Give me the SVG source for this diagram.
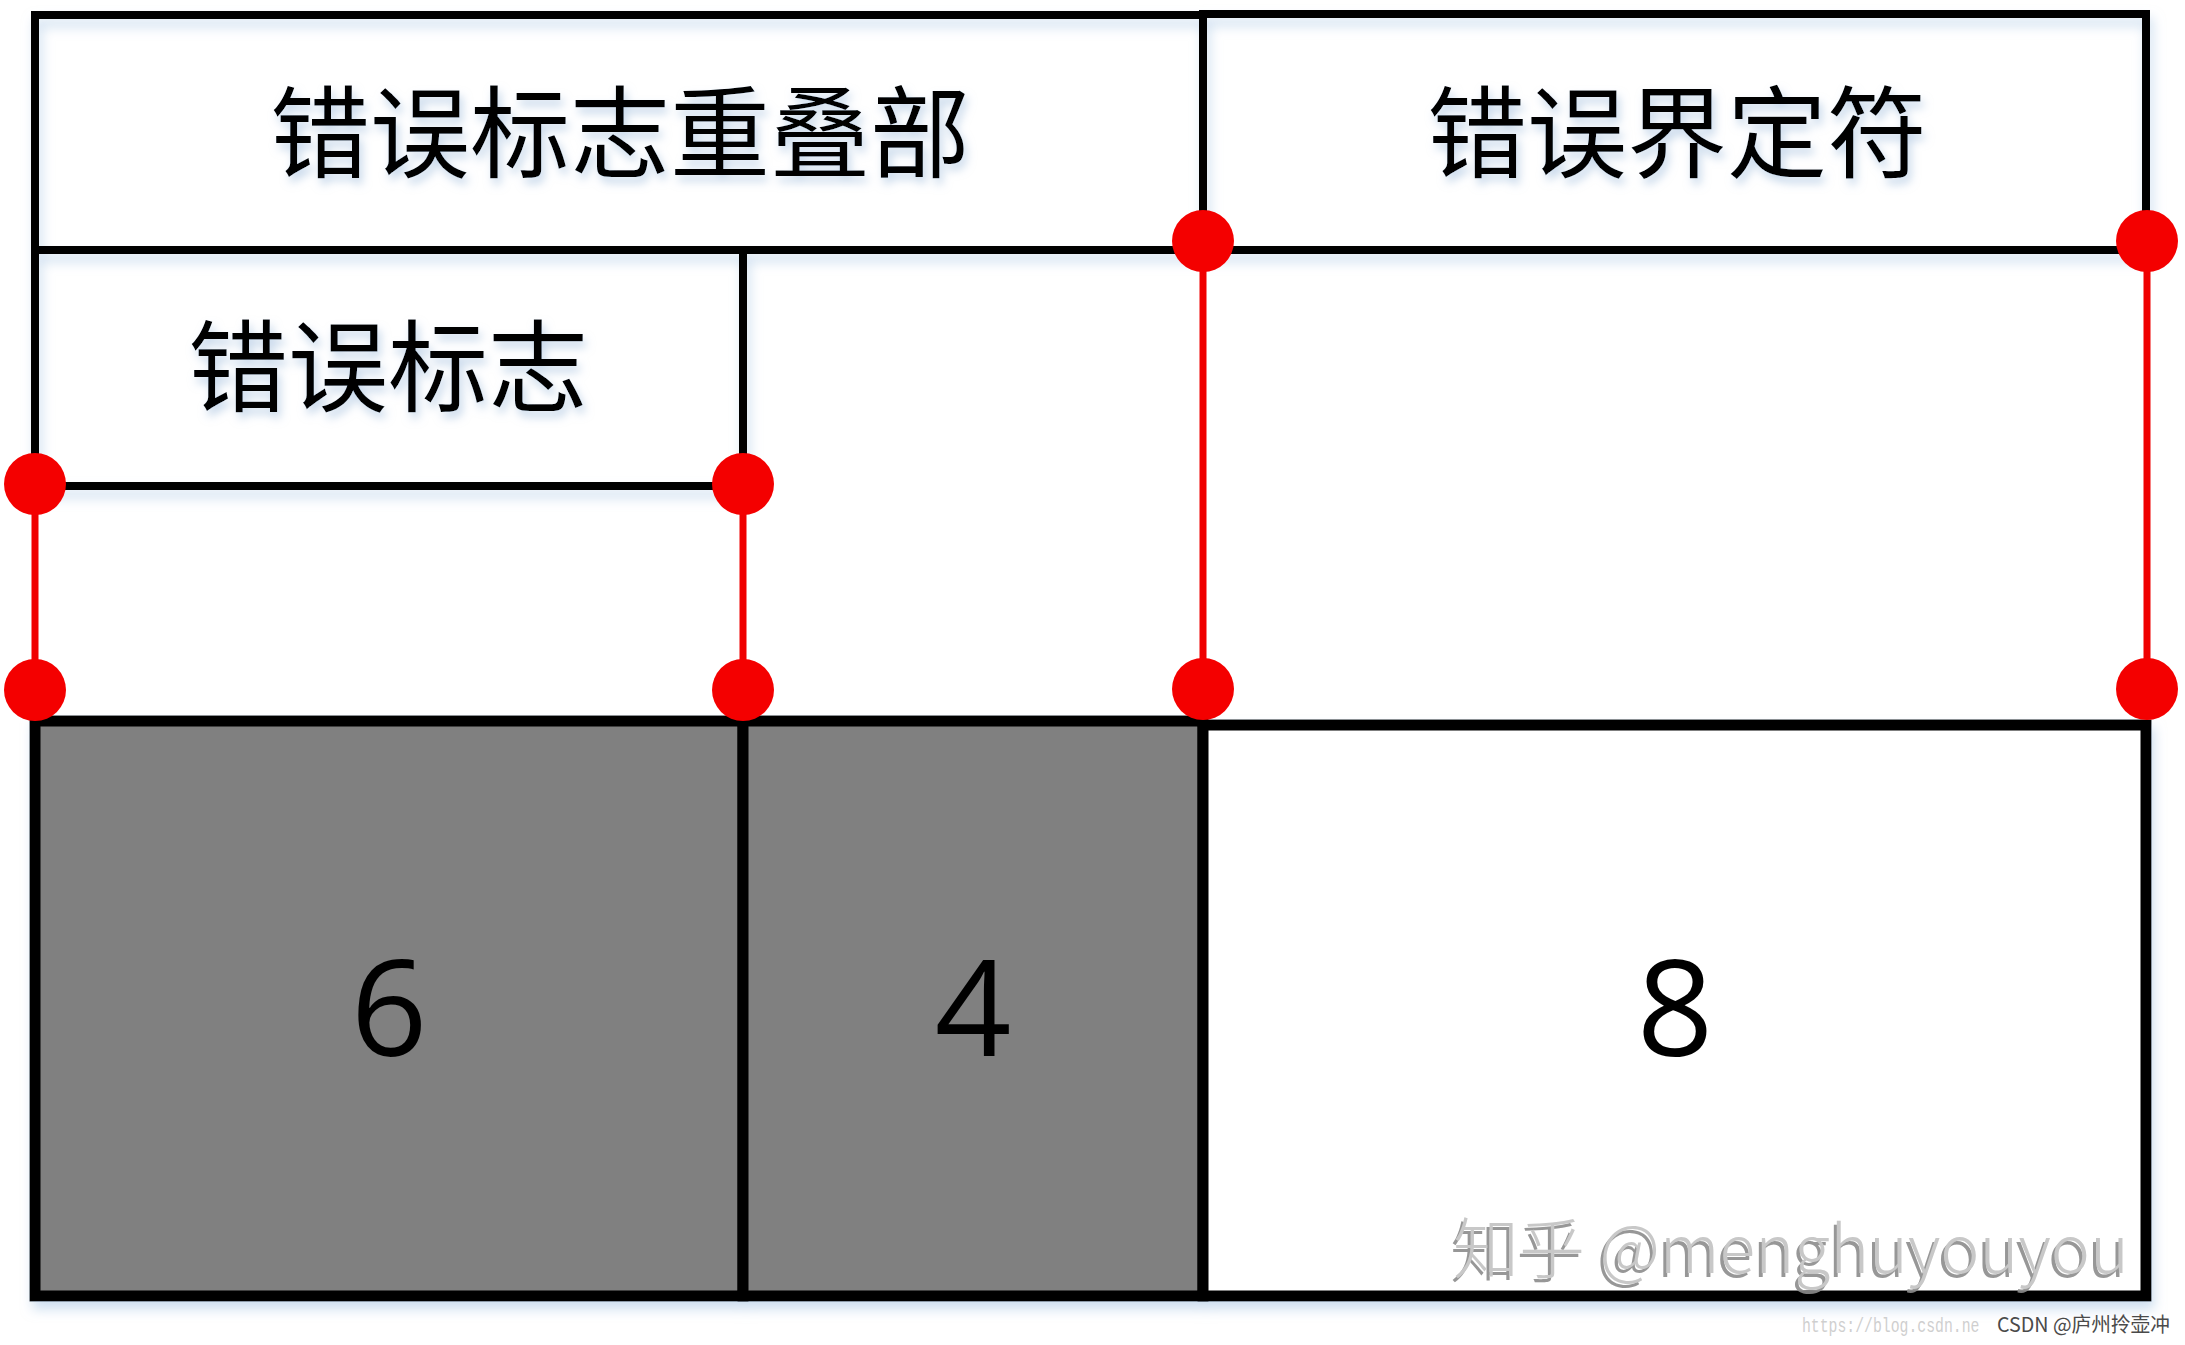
<svg xmlns="http://www.w3.org/2000/svg" width="2185" height="1345" viewBox="0 0 2185 1345">
<defs>
<filter id="sh" x="-5%" y="-5%" width="110%" height="120%">
<feDropShadow dx="3" dy="8" stdDeviation="6" flood-color="#a9c6e4" flood-opacity="0.55"/>
</filter>
<filter id="tsh" x="-10%" y="-20%" width="120%" height="150%">
<feDropShadow dx="3" dy="6" stdDeviation="5" flood-color="#9dbbdb" flood-opacity="0.6"/>
</filter>
<filter id="wsh" x="-5%" y="-20%" width="110%" height="150%">
<feDropShadow dx="-3" dy="4" stdDeviation="0.6" flood-color="#8c8c8c" flood-opacity="0.9"/>
</filter>
</defs>
<style>
.box{fill:none;stroke:#000;stroke-width:8}
.cell{stroke:#000;stroke-width:11}
.red{stroke:#f00000;stroke-width:7;fill:none}
.dot{fill:#f40000}
.cjk{font-family:"Noto Sans CJK SC","Noto Sans",sans-serif;font-size:100px;fill:#000;text-anchor:middle}
.num{font-family:"Open Sans","Liberation Sans",sans-serif;font-size:134px;fill:#000;text-anchor:middle}
</style>
<rect width="2185" height="1345" fill="#fff"/>
<g id="bottom" filter="url(#sh)">
<rect id="cell6" class="cell" x="35" y="721" width="708" height="575" fill="#808080"/>
<rect id="cell4" class="cell" x="743" y="721" width="460" height="575" fill="#808080"/>
<rect id="cell8" class="cell" x="1203" y="725" width="943" height="571" fill="#fff"/>
</g>
<g id="top" filter="url(#sh)">
<rect id="overlap" class="box" x="35" y="15" width="1168" height="235"/>
<rect id="delimiter" class="box" x="1203" y="14" width="943" height="236"/>
<rect id="flag" class="box" x="35" y="250" width="708" height="236"/>
</g>
<g id="connectors">
<line class="red" x1="35" y1="484" x2="35" y2="690"/>
<line class="red" x1="743" y1="484" x2="743" y2="690"/>
<line class="red" x1="1203" y1="241" x2="1203" y2="689"/>
<line class="red" x1="2147" y1="241" x2="2147" y2="689"/>
<circle class="dot" cx="35" cy="484" r="31"/>
<circle class="dot" cx="35" cy="690" r="31"/>
<circle class="dot" cx="743" cy="484" r="31"/>
<circle class="dot" cx="743" cy="690" r="31"/>
<circle class="dot" cx="1203" cy="241" r="31"/>
<circle class="dot" cx="1203" cy="689" r="31"/>
<circle class="dot" cx="2147" cy="241" r="31"/>
<circle class="dot" cx="2147" cy="689" r="31"/>
</g>
<g id="labels" filter="url(#tsh)">
<text class="cjk" x="620" y="170">错误标志重叠部</text>
<text class="cjk" x="1677" y="170">错误界定符</text>
<text class="cjk" x="388" y="404">错误标志</text>
</g>
<g id="numbers">
<text class="num" x="389" y="1056">6</text>
<text class="num" x="973" y="1056">4</text>
<text class="num" x="1675" y="1056">8</text>
</g>
<g id="watermarks">
<text x="1453" y="1273" textLength="676" lengthAdjust="spacingAndGlyphs" filter="url(#wsh)" style="font-family:'Noto Sans CJK SC','Noto Sans',sans-serif;font-size:66px;font-weight:300;fill:#c8c8c8">知乎 @menghuyouyou</text>
<text transform="translate(1802,1332) scale(0.74,1)" style="font-family:'Liberation Mono',monospace;font-size:20px;fill:#cfcfcf">https://blog.csdn.ne</text>
<text x="1997" y="1332" textLength="173" lengthAdjust="spacingAndGlyphs" style="font-family:'Noto Sans CJK SC','Liberation Sans',sans-serif;font-size:20px;fill:#4a4a4a">CSDN @庐州拎壶冲</text>
</g>
</svg>
